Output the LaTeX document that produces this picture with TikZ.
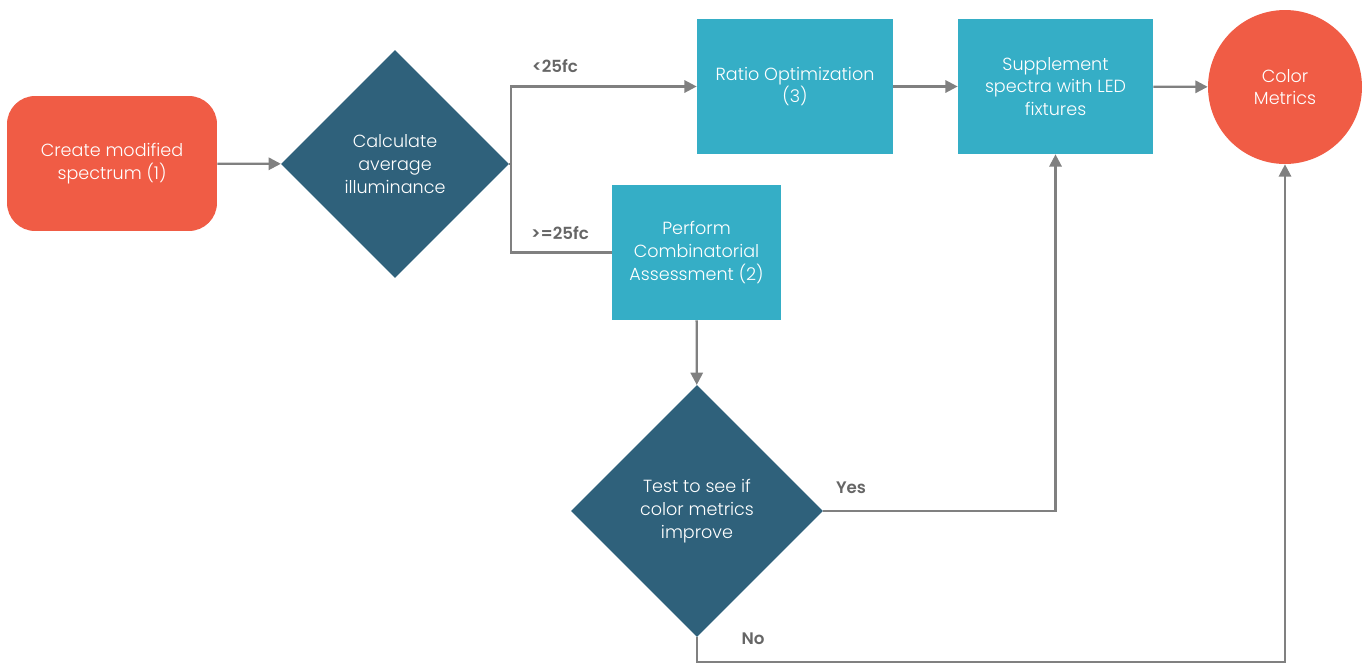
\documentclass[tikz,border=0pt]{standalone}
\usepackage{fontspec}
\setmainfont{Poppins}[UprightFont=* Light, BoldFont=* SemiBold]
\usepackage{tikz}
\usetikzlibrary{shapes,arrows.meta,positioning,calc}

\definecolor{coral}{HTML}{F05C45}
\definecolor{navy}{HTML}{2F617B}
\definecolor{teal}{HTML}{35AEC6}
\definecolor{linegray}{HTML}{808080}
\definecolor{labelgray}{HTML}{666666}

\tikzset{
    boxnode/.style={draw=none, rectangle, fill=teal, text=white, align=center, inner sep=0pt, font=\fontsize{10}{13}\selectfont},
    decnode/.style={draw=none, diamond, aspect=1, fill=navy, text=white, align=center, inner sep=0pt, font=\fontsize{10}{13}\selectfont},
    flowline/.style={draw=linegray, line width=1.3pt},
    flowarrow/.style={flowline, -{Triangle[length=7pt, width=7pt]}},
    branchlabel/.style={text=labelgray, font=\fontsize{9.5}{12}\selectfont\bfseries}
}

\begin{document}
\begin{tikzpicture}[x=0.02cm, y=-0.02cm]
    \useasboundingbox (0,0) rectangle (1366,663);
    % Start
    \node[boxnode, fill=coral, rounded corners=16pt, minimum width=4.2cm, minimum height=2.7cm] (create) at (112,163.5) {Create modified\\spectrum (1)};
    \node[decnode, minimum width=4.56cm, minimum height=4.56cm] (calc) at (395,164) {Calculate\\average\\illuminance};

    % Branches
    \node[boxnode, minimum width=3.92cm, minimum height=2.7cm] (ratio) at (795,86.5) {Ratio Optimization\\(3)};
    \node[boxnode, minimum width=3.38cm, minimum height=2.7cm] (perform) at (696.5,252.5) {Perform\\Combinatorial\\Assessment (2)};
    \node[boxnode, minimum width=3.9cm, minimum height=2.7cm] (supp) at (1055.5,86.5) {Supplement\\spectra with LED\\fixtures};
    \node[circle, fill=coral, text=white, align=center, inner sep=0pt, minimum size=3.08cm, font=\fontsize{10}{13}\selectfont] (color) at (1285,87) {Color\\Metrics};
    \node[decnode, minimum width=5.04cm, minimum height=5.04cm] (test) at (697,511) {Test to see if\\color metrics\\improve};

    % Labels
    \node[branchlabel] (lt) at (555,66) {<25fc};
    \node[branchlabel] (ge) at (560,233) {>=25fc};
    \node[branchlabel] (yes) at (851,488) {Yes};
    \node[branchlabel] (no) at (753,639) {No};

    \draw[flowarrow] (create) -- (calc);
    \draw[flowarrow] (calc.east) -- ++(2,0) |- (ratio.west);
    \draw[flowline] (calc.east) -- ++(2,0) |- (perform.west);
    \draw[flowarrow] (ratio) -- (supp);
    \draw[flowarrow] (supp) -- (color);
    \draw[flowarrow] (perform) -- (test);
    \draw[flowarrow] (test.east) -| (supp.south);
    \draw[flowarrow] (test.south) -- ++(0,25) -| (color.south);
\end{tikzpicture}
\end{document}
